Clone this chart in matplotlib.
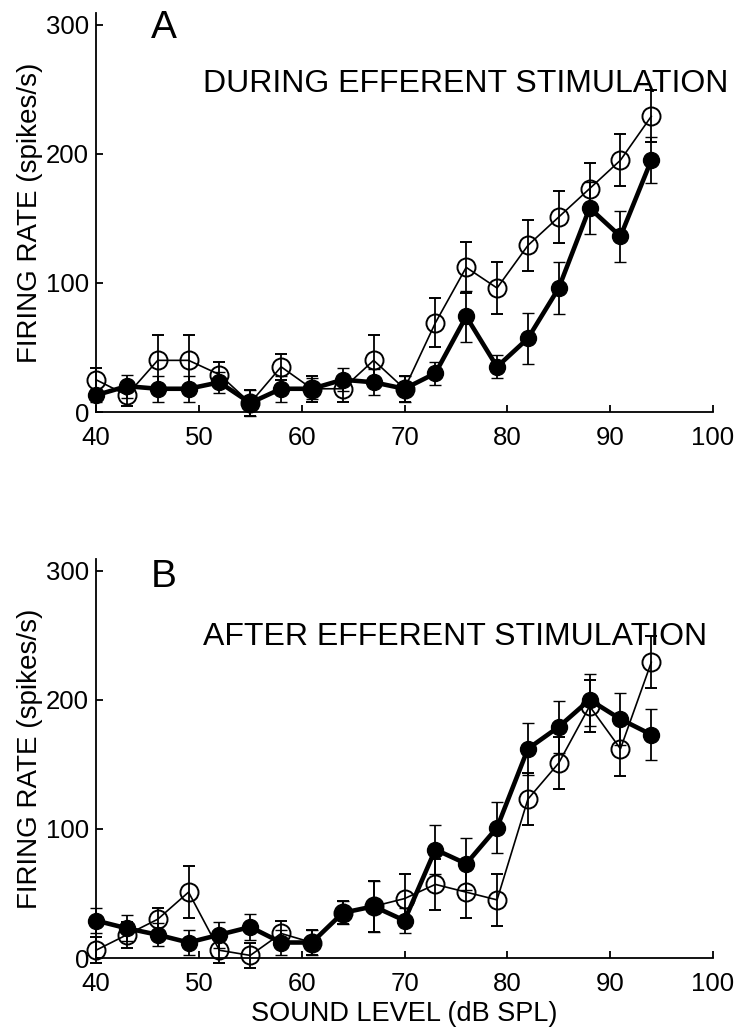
import matplotlib
matplotlib.use("Agg")
import matplotlib.pyplot as plt

plt.rcParams['font.family'] = ['Liberation Sans', 'DejaVu Sans']

# ---- data ----
levels = [40, 43, 46, 49, 52, 55, 58, 61, 64, 67, 70, 73, 76, 79, 82, 85, 88, 91, 94]

# Panel A: during efferent stimulation
a_open = [25, 13, 40, 40, 29, 7, 35, 18, 18, 40, 18, 69, 112, 96, 129, 151, 173, 195, 229]
a_open_err = [9, 8, 20, 20, 10, 10, 10, 10, 10, 20, 10, 19, 20, 20, 20, 20, 20, 20, 20]
a_fill = [13, 20, 18, 18, 23, 7, 18, 18, 25, 23, 18, 30, 74, 35, 57, 96, 158, 136, 195]
a_fill_err = [5, 9, 10, 10, 8, 10, 10, 8, 9, 10, 10, 9, 20, 9, 20, 20, 20, 20, 18]

# Panel B: after efferent stimulation
b_open = [6, 18, 30, 51, 6, 2, 19, 12, 35, 40, 46, 57, 51, 45, 123, 151, 195, 162, 229]
b_open_err = [10, 10, 9, 20, 10, 10, 10, 10, 9, 20, 19, 20, 20, 20, 20, 20, 20, 21, 20]
b_fill = [29, 23, 18, 12, 18, 24, 12, 12, 35, 40, 29, 84, 73, 101, 162, 179, 200, 185, 173]
b_fill_err = [10, 10, 9, 10, 10, 10, 10, 10, 9, 20, 10, 19, 20, 20, 20, 20, 20, 20, 20]

xticks = [40, 50, 60, 70, 80, 90, 100]
yticks = [0, 100, 200, 300]
titles = ["DURING EFFERENT STIMULATION", "AFTER EFFERENT STIMULATION"]
letters = ["A", "B"]
ylabel = "FIRING RATE (spikes/s)"
xlabel = "SOUND LEVEL (dB SPL)"

W, H = 737, 1030
fig = plt.figure(figsize=(W / 100, H / 100), dpi=100)

def px_rect(left, top, right, bottom):
    return [left / W, 1 - bottom / H, (right - left) / W, (bottom - top) / H]

axA = fig.add_axes(px_rect(96, 13, 713, 412))
axB = fig.add_axes(px_rect(96, 559, 713, 958))

panels = [
    (axA, a_open, a_open_err, a_fill, a_fill_err),
    (axB, b_open, b_open_err, b_fill, b_fill_err),
]

for i, (ax, yo, eo, yf, ef) in enumerate(panels):
    ax.errorbar(levels, yo, yerr=eo, color='black', lw=1.2, elinewidth=1.3,
                capsize=4.3, capthick=1.3, marker='o', ms=13, mfc='none',
                mec='black', mew=1.4, clip_on=False, zorder=2)
    ax.errorbar(levels, yf, yerr=ef, color='black', lw=3.3, elinewidth=1.3,
                capsize=4.3, capthick=1.3, marker='o', ms=11.5, mfc='black',
                mec='black', mew=1.0, clip_on=False, zorder=3)
    ax.set_xlim(40, 100)
    ax.set_ylim(0, 309)
    ax.set_xticks(xticks)
    ax.set_yticks(yticks)
    ax.spines['top'].set_visible(False)
    ax.spines['right'].set_visible(False)
    for s in ('left', 'bottom'):
        ax.spines[s].set_linewidth(1.3)
    ax.tick_params(direction='in', length=5, width=1.3, labelsize=18.5, pad=5)
    ax.tick_params(axis='x', pad=10)
    ax.set_ylabel(ylabel, fontsize=20, labelpad=2)

fig.text(203 / W, 1 - 84 / H, titles[0], fontsize=23, ha='left', va='center')
fig.text(203 / W, 1 - 637 / H, titles[1], fontsize=23, ha='left', va='center')
fig.text(164 / W, 1 - 28 / H, letters[0], fontsize=28, ha='center', va='center')
fig.text(164 / W, 1 - 577 / H, letters[1], fontsize=28, ha='center', va='center')

axB.set_xlabel(xlabel, fontsize=19.5, labelpad=4)

fig.savefig("out.png", dpi=100)
